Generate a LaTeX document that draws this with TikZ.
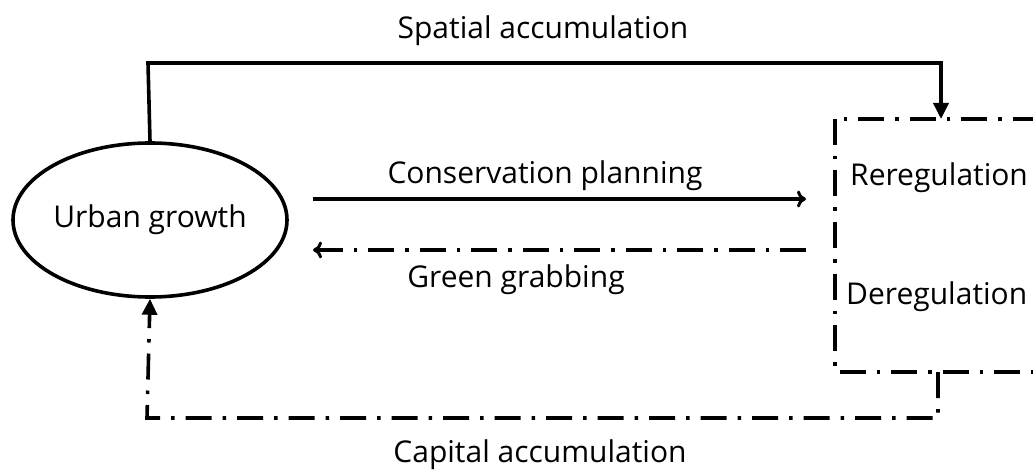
\documentclass[tikz,border=0pt]{standalone}
\usepackage{fontspec}
\setmainfont{Open Sans}
\usetikzlibrary{arrows.meta,shapes.geometric}
\begin{document}
\begin{tikzpicture}[x=1pt,y=-1pt,
  lbl/.style={font=\fontsize{30}{34}\selectfont, inner sep=0pt},
  flow/.style={line width=3.6pt},
  dashdot/.style={line width=3.6pt, dash pattern=on 26pt off 11pt on 3.5pt off 11pt},
  solidtip/.style={-{Triangle[length=16pt,width=15pt]}},
  opentip/.style={-{To[length=9pt,width=17pt,line width=3pt]}}]
\useasboundingbox (0,0) rectangle (1033,473);
\begin{scope}
\clip (0,0) rectangle (1033,473);
% Urban growth ellipse
\node[ellipse, draw, line width=3.6pt, minimum width=274pt, minimum height=154pt, lbl] (ug) at (150,220) {Urban growth};
% regulation box (runs off the right edge)
\coordinate (bx1) at (835,119);
\coordinate (bx2) at (1070,372);
\draw[dashdot] (bx1) rectangle (bx2);
\node[lbl, anchor=west] (rereg) at (850,178) {Reregulation};
\node[lbl, anchor=west] (dereg) at (846,297) {Deregulation};
% spatial accumulation
\coordinate (st) at (941,119);
\draw[flow, solidtip] (ug.north) -- (148,63) -- (941,63) -- (st);
\node[lbl] (sa) at (543,31) {Spatial accumulation};
% conservation planning / green grabbing
\coordinate (cpa) at (313,199);
\coordinate (cpb) at (806,199);
\draw[flow, opentip] (cpa) -- (cpb);
\node[lbl] (cp) at (545,176) {Conservation planning};
\coordinate (gga) at (806,250);
\coordinate (ggb) at (313,250);
\draw[dashdot, opentip] (gga) -- (ggb);
\node[lbl] (gg) at (516,280) {Green grabbing};
% capital accumulation
\coordinate (cb) at (938,372);
\draw[dashdot, solidtip] (cb) -- (938,418) -- (147,418) -- (ug.south);
\node[lbl] (ca) at (540,455) {Capital accumulation};
\end{scope}
\end{tikzpicture}
\end{document}
